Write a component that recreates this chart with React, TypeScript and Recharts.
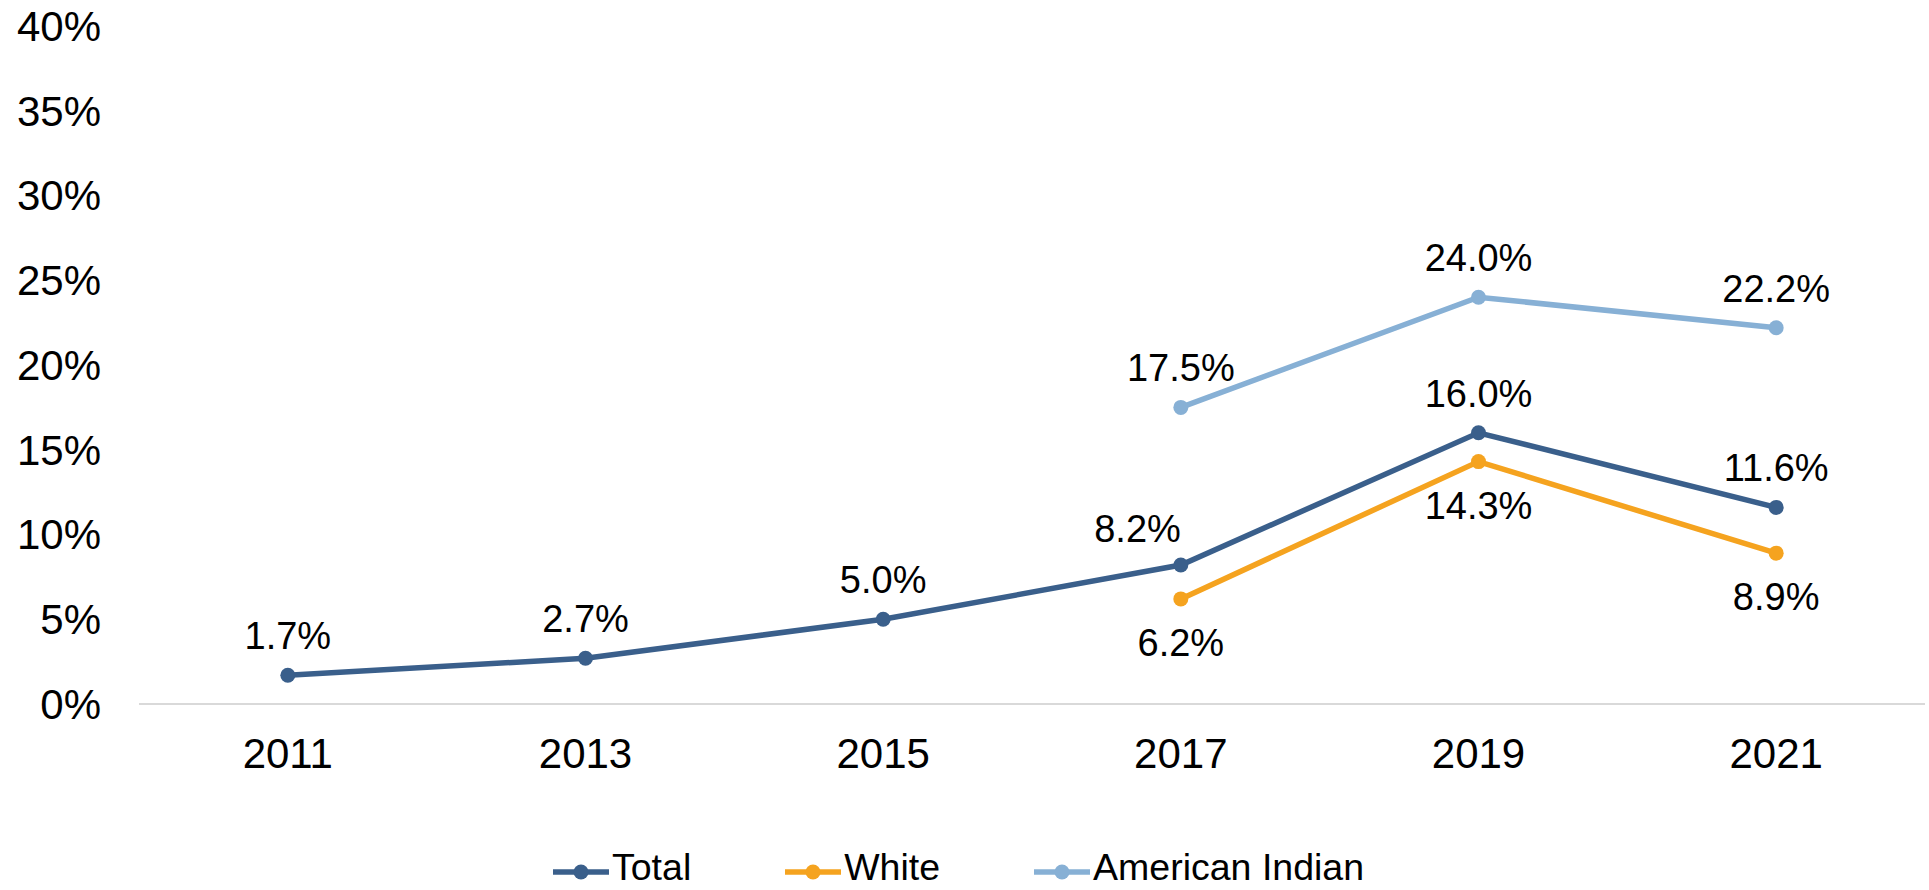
import { LineChart, Line, XAxis, YAxis, Legend, LabelList } from "recharts";

const years = ["2011", "2013", "2015", "2017", "2019", "2021"];
const total = [1.7, 2.7, 5.0, 8.2, 16.0, 11.6];
const white = [null, null, null, 6.2, 14.3, 8.9];
const americanIndian = [null, null, null, 17.5, 24.0, 22.2];
const yTicks = [0, 5, 10, 15, 20, 25, 30, 35, 40];

const data = years.map((year, i) => ({
  year,
  Total: total[i],
  White: white[i],
  "American Indian": americanIndian[i],
}));

const FONT = "'Liberation Sans', Arial, sans-serif";
const colors = { Total: "#3A5F8B", White: "#F5A31F", "American Indian": "#87B0D5" };
const series = ["Total", "White", "American Indian"] as const;

const fmt = (v: any) => `${Number(v).toFixed(1)}%`;

function aboveLabel(props: any) {
  const { x, y, value, index } = props;
  if (value == null) return null;
  const side = props.leftAt === index;
  return (
    <text x={x} y={side ? y - 23 : y - 26} textAnchor={side ? "end" : "middle"} fontSize={38} fontFamily={FONT} fill="#000">
      {fmt(value)}
    </text>
  );
}

function belowLabel(props: any) {
  const { x, y, value } = props;
  if (value == null) return null;
  return (
    <text x={x} y={y + 57} textAnchor="middle" fontSize={38} fontFamily={FONT} fill="#000">
      {fmt(value)}
    </text>
  );
}

// legend row sits right on the bottom edge, like the source
function LegendContent() {
  return (
    <div style={{ display: "flex", alignItems: "center", height: 46, paddingLeft: 553, fontFamily: FONT, fontSize: 37.5, color: "#000" }}>
      {series.map((s, i) => (
        <div key={s} style={{ display: "flex", alignItems: "center", marginLeft: i === 0 ? 0 : 94 }}>
          <svg width={56} height={16} style={{ marginRight: 3, position: "relative", top: 5 }}>
            <line x1={0} y1={8} x2={56} y2={8} stroke={colors[s]} strokeWidth={5.5} />
            <circle cx={28} cy={8} r={7.5} fill={colors[s]} />
          </svg>
          <span style={{ lineHeight: "46px" }}>{s}</span>
        </div>
      ))}
    </div>
  );
}

export default function App() {
  return (
    <div style={{ position: "absolute", left: 0, top: 0, background: "#fff" }}>
      <LineChart width={1929} height={890} data={data} margin={{ top: 26, right: 4, bottom: 80, left: 0 }}>
        <XAxis
          dataKey="year"
          scale="band"
          axisLine={{ stroke: "#D9D9D9", strokeWidth: 2 }}
          tickLine={false}
          tickSize={0}
          tickMargin={34}
          height={60}
          tick={{ fontSize: 42, fontFamily: FONT, fill: "#000" }}
        />
        <YAxis
          domain={[0, 40]}
          ticks={yTicks}
          width={139}
          axisLine={false}
          tickLine={false}
          tickSize={0}
          tickMargin={38}
          tickFormatter={(v) => `${v}%`}
          tick={{ fontSize: 42, fontFamily: FONT, fill: "#000" }}
        />
        <Legend
          content={<LegendContent />}
          wrapperStyle={{ position: "absolute", top: 844, left: 0, width: 1929, height: 46 }}
        />
        <Line
          dataKey="Total"
          stroke={colors.Total}
          strokeWidth={5.5}
          dot={{ r: 7.5, fill: colors.Total, stroke: "none" }}
          isAnimationActive={false}
        >
          <LabelList dataKey="Total" content={(p: any) => aboveLabel({ ...p, leftAt: 3 })} />
        </Line>
        <Line
          dataKey="White"
          stroke={colors.White}
          strokeWidth={5.5}
          dot={{ r: 7.5, fill: colors.White, stroke: "none" }}
          isAnimationActive={false}
        >
          <LabelList dataKey="White" content={belowLabel} />
        </Line>
        <Line
          dataKey="American Indian"
          stroke={colors["American Indian"]}
          strokeWidth={5.5}
          dot={{ r: 7.5, fill: colors["American Indian"], stroke: "none" }}
          isAnimationActive={false}
        >
          <LabelList dataKey="American Indian" content={(p: any) => aboveLabel({ ...p, leftAt: -1 })} />
        </Line>
      </LineChart>
    </div>
  );
}
